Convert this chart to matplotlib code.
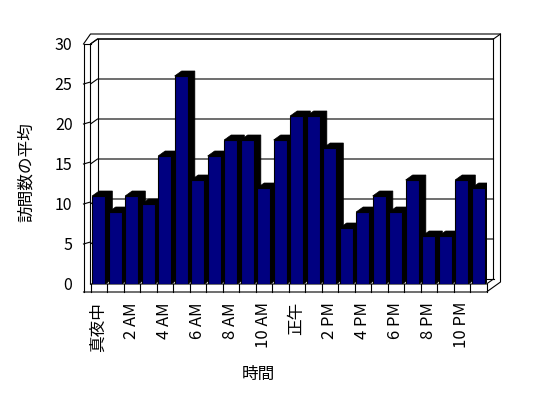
import matplotlib
matplotlib.use('Agg')
import matplotlib.pyplot as plt
from matplotlib.patches import Polygon

plt.rcParams['font.family'] = ['Noto Sans CJK JP', 'DejaVu Sans']

hours = list(range(24))
visits = [11, 9, 11, 10, 16, 26, 13, 16, 18, 18, 12, 18,
          21, 21, 17, 7, 9, 11, 9, 13, 6, 6, 13, 12]
hour_labels = ['真夜中', '2 AM', '4 AM', '6 AM', '8 AM', '10 AM',
               '正午', '2 PM', '4 PM', '6 PM', '8 PM', '10 PM']
yticks = [0, 5, 10, 15, 20, 25, 30]

W, H = 548, 398
fig = plt.figure(figsize=(W / 100, H / 100), dpi=100)
ax = fig.add_axes([90.5 / W, (H - 284) / H, 396 / W, 240 / H])
ax.set_xlim(-0.5, 23.5)
ax.set_ylim(0, 30)

# pixel sizes in data units
px = 24 / 396
py = 30 / 240
dx, dy = 7 * px, 5 * py   # depth of the fake 3d
x0, x1 = -0.5, 23.5
xo = x0 - 7 * px          # outer edge of left wall
yb = -8 * py              # bottom of floor slab

def line(xs, ys, z=2):
    ax.plot(xs, ys, color='black', lw=0.8, clip_on=False, zorder=z)

# gridlines on the back wall + small marks on the left wall
for v in yticks[1:]:
    line([x0, x0 + dx, x1 + dx], [v, v + dy, v + dy], z=1)
    if v < 30:
        line([xo, x0], [v, v + 2 * py], z=1)

# walls and floor
line([xo, xo], [yb, 30])
line([xo, x0], [30, 30])
line([xo, xo + dx, x1 + 2 * dx], [30, 30 + 2 * dy, 30 + 2 * dy])
line([x0, x0, x0 + dx, x1 + dx, x1 + dx], [0, 30, 30 + dy, 30 + dy, dy])
line([x0 + dx, x0 + dx], [dy, 30 + dy])
line([x1 + dx, x1 + 2 * dx, x1 + 2 * dx, x1, xo],
     [30 + dy, 30 + 2 * dy, yb + 2 * dy, yb, yb])
line([x0, x1, x1 + dx], [0, 0, dy])
line([x0 + dx, x1 + dx], [dy, dy], z=1)
for k in range(25):
    line([k - 0.5, k - 0.5], [yb, 0])

# bars: black top/side then navy front
bw = 0.8
for h, v in zip(hours, visits):
    xl, xr = h - bw / 2, h + bw / 2
    side = Polygon([(xl, v), (xl + dx, v + dy), (xr + dx, v + dy),
                    (xr + dx, dy), (xr, 0), (xr, v)],
                   closed=True, facecolor='black', edgecolor='black',
                   lw=0.5, zorder=3)
    ax.add_patch(side)
ax.bar(hours, visits, width=bw, color='#000080', edgecolor='black',
       lw=0.8, zorder=4)

ax.set_xticks(hours[::2])
ax.set_xticklabels(hour_labels, rotation=90, fontsize=12, va='top')
ax.set_yticks(yticks)
ax.set_yticklabels([str(t) for t in yticks], fontsize=11.5)
ax.tick_params(axis='x', length=0, pad=13)
ax.tick_params(axis='y', length=0, pad=13)
for s in ax.spines.values():
    s.set_visible(False)
ax.patch.set_visible(False)

ax.set_xlabel('時間', fontsize=12)
ax.xaxis.set_label_coords(0.423, -0.343)
ax.set_ylabel('訪問数の平均', fontsize=12)
ax.yaxis.set_label_coords(-0.14, 0.467)

fig.savefig('out.png', dpi=100)
